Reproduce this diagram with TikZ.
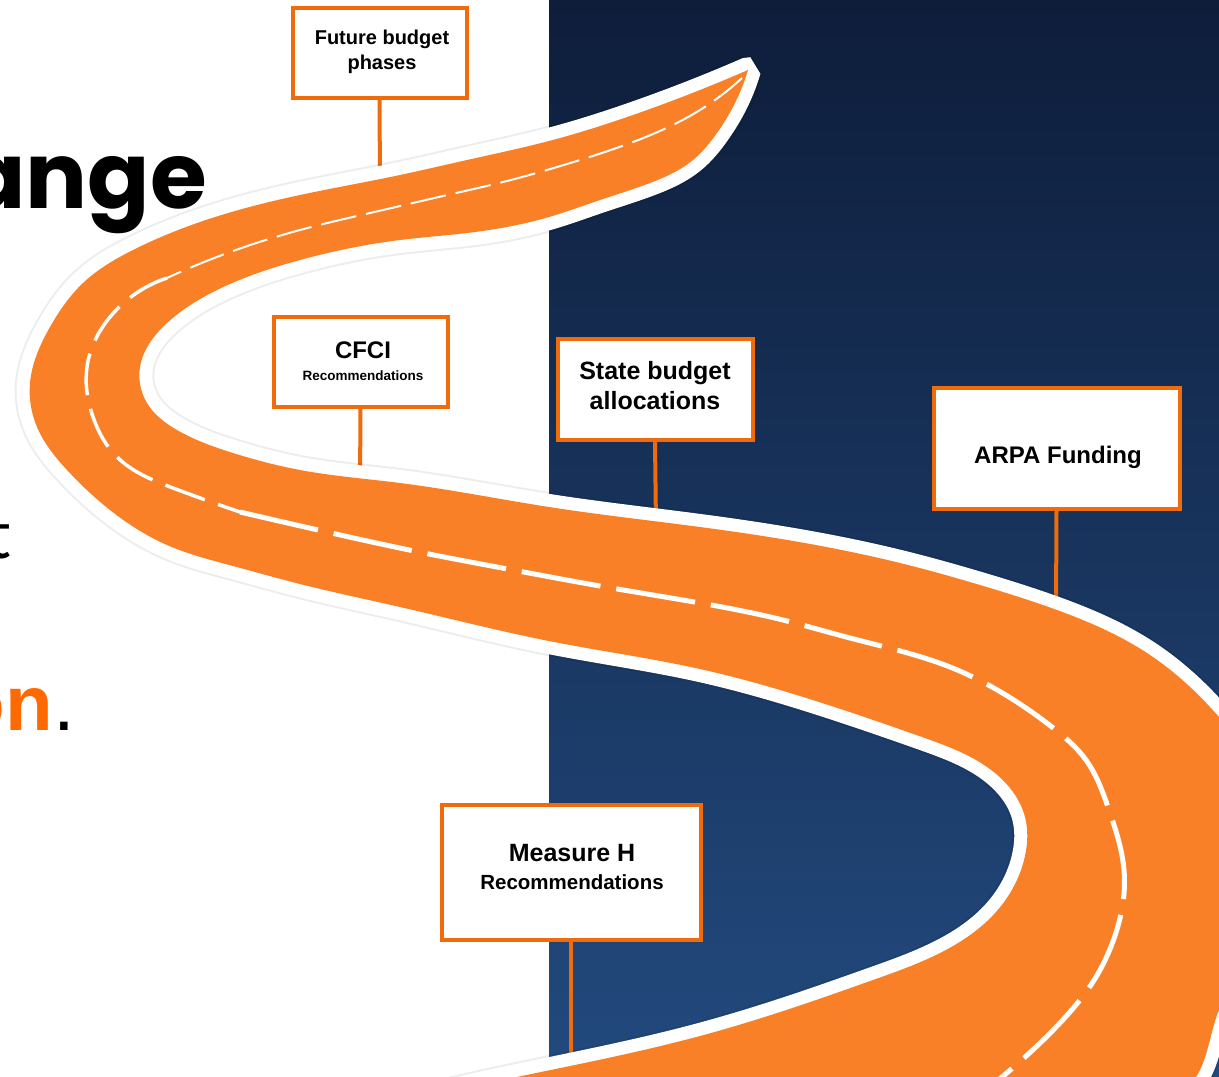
\documentclass[tikz,border=0pt]{standalone}
\usepackage{fontspec}
\setmainfont{Liberation Sans}
\newfontfamily\headfont{Poppins}
\newfontfamily\thinfont{Lato}
\usetikzlibrary{hobby}
\definecolor{navytop}{HTML}{0E1D3A}
\definecolor{navybottom}{HTML}{224A7E}
\definecolor{roadorange}{HTML}{F98026}
\definecolor{signorange}{HTML}{EF6B0B}
\definecolor{textorange}{HTML}{FF6A00}
\tikzstyle{sign}=[draw=signorange, line width=4pt, fill=white]
\tikzstyle{sign text}=[align=center, inner sep=0]
\tikzstyle{post}=[draw=signorange, line width=4pt]
\tikzstyle{road}=[draw=white, line width=26pt, line join=bevel, preaction={draw=black, draw opacity=0.07, line width=30pt, line join=bevel}, postaction={fill=roadorange}]
\tikzstyle{lane}=[draw=white, line cap=butt]

\begin{document}
\begin{tikzpicture}[x=1pt, y=-1pt]
          \useasboundingbox (0,0) rectangle (1219,1077);
          \clip (0,0) rectangle (1219,1077);
          \fill[white] (0,0) rectangle (549,1077);
          \shade[top color=navytop, bottom color=navybottom] (549,0) rectangle (1219,1077);

          % cut-off words of the slide title
          \node[anchor=base east, inner sep=0, font=\headfont\bfseries\fontsize{92}{92}\selectfont] (title_word) at (207,208) {ange};
          \node[anchor=base east, inner sep=0, font=\thinfont\fontsize{68}{68}\selectfont] (body_word) at (11,558) {t};
          \node[anchor=base east, inner sep=0, font=\fontsize{78}{78}\selectfont] (action_word) at (75,730) {{\bfseries\color{textorange}on}.};

          % signs
          \node[sign, minimum width=174, minimum height=90] (future) at (379.5,52.5) {};
          \node[sign text, font=\bfseries\fontsize{20}{25}\selectfont] (future_text) at (382,52) {Future budget\\phases};
          \node[sign, minimum width=174, minimum height=90] (cfci) at (360.5,361.5) {};
          \node[sign text, font=\bfseries\fontsize{13.5}{22}\selectfont] (cfci_text) at (363,361) {{\fontsize{24}{22}\selectfont CFCI}\\Recommendations};
          \node[sign, minimum width=195, minimum height=101] (state) at (655,389) {};
          \node[sign text, font=\bfseries\fontsize{25}{30}\selectfont] (state_text) at (655,386) {State budget\\allocations};
          \node[sign, minimum width=246, minimum height=121] (arpa) at (1056.5,448) {};
          \node[sign text, font=\bfseries\fontsize{24}{28}\selectfont] (arpa_text) at (1058,457) {ARPA Funding};
          \node[sign, minimum width=259, minimum height=135] (measure) at (571,872) {};
          \node[sign text, font=\bfseries\fontsize{20.5}{28}\selectfont] (measure_text) at (572,867) {{\fontsize{25}{28}\selectfont Measure H}\\Recommendations};

          \coordinate (future_foot) at (380,184);
          \coordinate (cfci_foot) at (360,484);
          \coordinate (state_foot) at (656,526);
          \coordinate (arpa_foot) at (1056,612);
          \coordinate (measure_foot) at (571,1072);
          \draw[post] (future.south) -- (future_foot);
          \draw[post] (cfci.south) -- (cfci_foot);
          \draw[post] (state.south) -- (state_foot);
          \draw[post] (arpa.south) -- (arpa_foot);
          \draw[post] (measure.south) -- (measure_foot);

          % the road
          \path[road, use Hobby shortcut] (748,70)
            .. (700,90) .. (633,115) .. (549,141) .. (467,160) .. (400,175)
            .. (300,195) .. (200,222) .. (133,250) .. (83,283) .. (50,327)
            .. (30,383) .. (37,427) .. (67,470) .. (110,510) .. (167,545)
            .. (233,566) .. (300,584) .. (400,607) .. (549,641) .. (700,669)
            .. (819,702) .. (922,737) .. (995,773) .. (1025,817) .. (1025,856)
            .. (996,912) .. (942,952) .. (873,980) .. (819,999) .. (700,1036)
            .. (570,1066) .. (480,1085) .. (380,1110)
            -- (1160,1105)
            .. (1196,1077) .. (1219,1010) .. (1255,950) .. (1272,860)
            .. (1255,770) .. (1219,717) .. (1147,653) .. (1057,610)
            .. (980,585) .. (900,563) .. (700,527) .. (549,507) .. (400,483)
            .. (300,470) .. (233,453) .. (177,430) .. (147,403) .. (140,367)
            .. (167,323) .. (217,290) .. (300,260) .. (400,240) .. (467,233)
            .. (549,217) .. (600,200) .. (650,183) .. (693,160) .. (717,133)
            .. (733,107) .. (748,70) -- cycle;

          \draw[lane, line width=2pt, dash pattern=on 36pt off 10pt, use Hobby shortcut]
            (742,78) .. (700,110) .. (633,142) .. (567,164) .. (507,181)
            .. (443,196) .. (383,210) .. (300,230) .. (233,251) .. (167,278);
          \draw[lane, line width=3.5pt, dash pattern=on 42pt off 14pt, use Hobby shortcut]
            (167,278) .. (110,317) .. (87,367) .. (93,417) .. (117,457)
            .. (173,488) .. (240,512);
          \draw[lane, line width=5pt, dash pattern=on 80pt off 16pt, use Hobby shortcut]
            (240,512) .. (327,532) .. (424,553) .. (513,570) .. (600,586)
            .. (700,603) .. (783,620) .. (850,638) .. (950,667) .. (992,687)
            .. (1052,727) .. (1086,760) .. (1109,810) .. (1124,870)
            .. (1112,944) .. (1096,977) .. (1059,1024) .. (1002,1077) .. (960,1110);
        \end{tikzpicture}
\end{document}
